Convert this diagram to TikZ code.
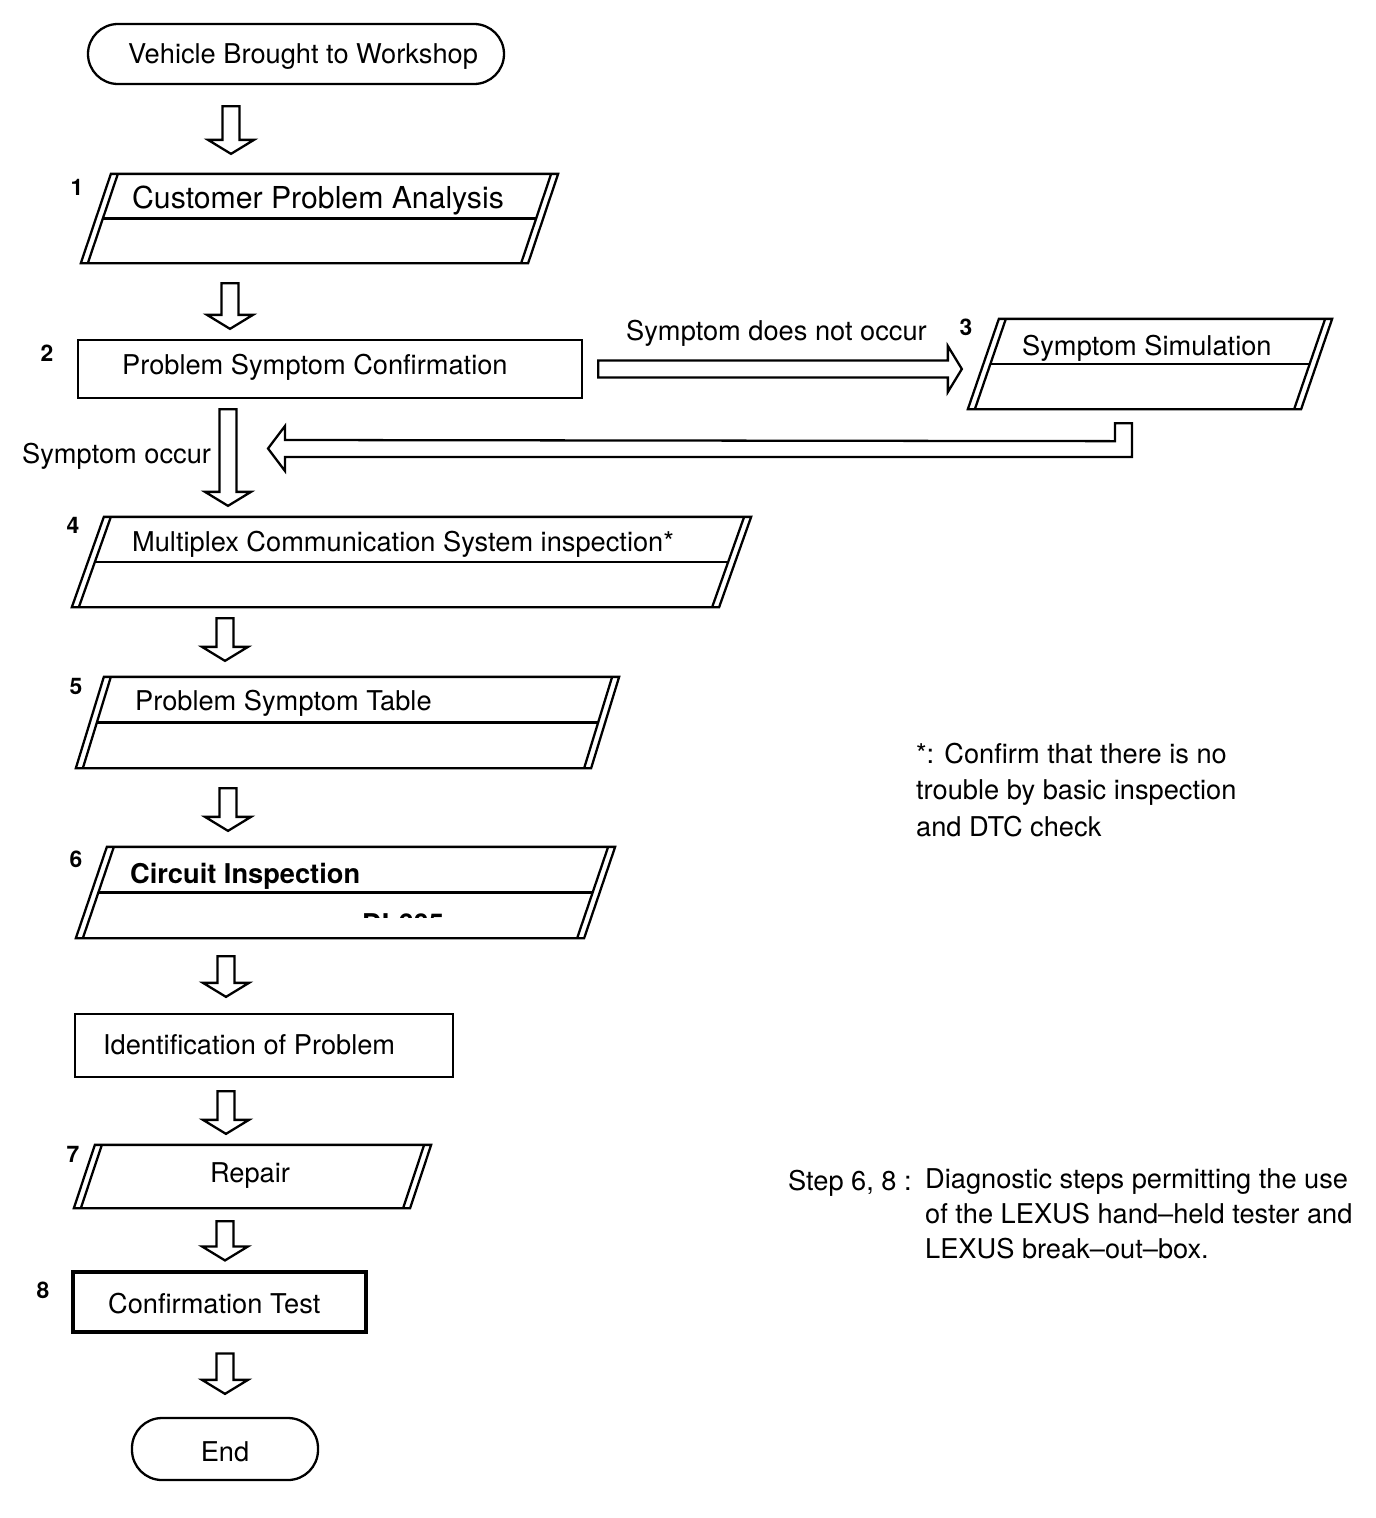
\documentclass[tikz,border=0pt]{standalone}
\usepackage{fontspec}
\setmainfont{TeX Gyre Heros}
\usetikzlibrary{calc,fit}
\def\shaftw{0.17cm}
\def\headw{0.46cm}
\def\headlen{0.28cm}
\tikzset{
  box/.style={draw, inner sep=0pt},
  pill/.style={box, rounded corners=0.6cm},
  area/.style={inner sep=0pt},
  txt/.style={inner sep=0pt, yshift=-1.7pt, font=\fontsize{15.5}{20.7}\selectfont},
  bigtxt/.style={inner sep=0pt, yshift=-1.7pt, font=\fontsize{17.2}{20}\selectfont},
  boldtxt/.style={inner sep=0pt, yshift=-1.7pt, font=\fontsize{15.5}{20}\selectfont\bfseries},
  stepno/.style={inner sep=0pt, font=\fontsize{13}{15}\selectfont\bfseries},
  hollow/.style={to path={
    ($(\tikztotarget)!\headlen!(\tikztostart)$) coordinate (hb)
    ($(\tikztostart)!\shaftw!90:(\tikztotarget)$) -- ($(hb)!\shaftw!90:(\tikztotarget)$)
    -- ($(hb)!\headw!90:(\tikztotarget)$) -- (\tikztotarget)
    -- ($(hb)!\headw!-90:(\tikztotarget)$) -- ($(hb)!\shaftw!-90:(\tikztotarget)$)
    -- ($(\tikztostart)!\shaftw!-90:(\tikztotarget)$) -- cycle}},
}
\begin{document}
\begin{tikzpicture}[x=0.02cm, y=-0.02cm, line width=1.3pt]
  \useasboundingbox (0,0) rectangle (1376,1518);
  % boxes
  \node[pill, fit={(88,24) (504,84)}] (start) {};
  \node[area, fit={(82,175) (557,262)}] (b1) {};
  \node[box, fit={(78,340) (582,398)}] (b2) {};
  \node[area, fit={(969,320) (1331,408)}] (b3) {};
  \node[area, fit={(73,518) (750,606)}] (b4) {};
  \node[area, fit={(77,678) (618,767)}] (b5) {};
  \node[area, fit={(77,848) (614,937)}] (b6) {};
  \node[box, fit={(75,1014) (453,1077)}] (ident) {};
  \node[area, fit={(75,1146) (430,1207)}] (b7) {};
  \node[box, line width=1.8pt, fit={(73,1272) (366,1332)}] (b8) {};
  \node[pill, fit={(132,1418) (318,1480)}] (finish) {};
  % slanted boxes, double sides
  \foreach \n/\s in {b1/30, b3/31, b4/32, b5/28, b6/31, b7/21} {
    \draw ($(\n.north west)+(\s,0)$) -- (\n.north east) -- ($(\n.south east)-(\s,0)$) -- (\n.south west) -- cycle;
    \draw ($(\n.north west)+(\s+7,0)$) -- ($(\n.south west)+(7,0)$);
    \draw ($(\n.north east)-(7,0)$) -- ($(\n.south east)-(\s+7,0)$);
  }
  \foreach \n/\s in {b1/30, b3/31, b4/32, b5/28, b6/31} {
    \draw ($(\n.west)+(\s/2+7,0)$) -- ($(\n.east)-(\s/2+7,0)$);
  }
  % texts
  \node[txt] (tstart) at (303,54) {Vehicle Brought to Workshop};
  \node[bigtxt, anchor=west] (t1) at (131,198) {Customer Problem Analysis};
  \node[txt, anchor=west] (t2) at (121,364) {Problem Symptom Confirmation};
  \node[txt, anchor=west] (t3) at (1021,345) {Symptom Simulation};
  \node[txt, anchor=west] (t4) at (131,541) {Multiplex Communication System inspection*};
  \node[txt, anchor=west] (t5) at (134,700) {Problem Symptom Table};
  \node[boldtxt, anchor=west] (t6) at (129,873) {Circuit Inspection};
  \begin{scope}
    \clip (340,906) rectangle (470,917);
    \node[boldtxt, anchor=west] (t6b) at (361,921) {DI-605};
  \end{scope}
  \node[txt, anchor=west] (tident) at (102,1042) {Identification of Problem};
  \node[txt] (t7) at (250,1173) {Repair};
  \node[txt, anchor=west] (t8) at (107,1301) {Confirmation Test};
  \node[txt] (tfinish) at (225,1449) {End};
  \node[txt, anchor=west] (notocc) at (625,330) {Symptom does not occur};
  \node[txt, anchor=west] (occ) at (21,453) {Symptom occur};
  % step numbers
  \node[stepno] (n1) at (77,187) {1};
  \node[stepno] (n2) at (47,353) {2};
  \node[stepno] (n3) at (966,327) {3};
  \node[stepno] (n4) at (73,525) {4};
  \node[stepno] (n5) at (76,686) {5};
  \node[stepno] (n6) at (76,859) {6};
  \node[stepno] (n7) at (73,1154) {7};
  \node[stepno] (n8) at (43,1290) {8};
  % notes
  \node[txt, anchor=north west, align=left] (note) at (915,739) {*: Confirm that there is no\\trouble by basic inspection\\and DTC check};
  \node[txt, anchor=west] (steplbl) at (787,1180) {Step 6, 8 :};
  \node[txt, anchor=north west, align=left, font=\fontsize{15.5}{19.8}\selectfont] (stepnote) at (924,1165) {Diagnostic steps permitting the use\\of the LEXUS hand--held tester and\\LEXUS break--out--box.};
  % arrows
  \foreach \a/\b/\x/\g/\h in {start/b1/231/21/20, b1/b2/230/20/10, b2/b4/228/10/11,
      b4/b5/225/11/16, b5/b6/228/20/16, b6/ident/226/18/16, ident/b7/226/13/11,
      b7/b8/225/13/10, b8/finish/225/20/23} {
    \draw[hollow] ($(\a.south -| \x,0)+(0,\g)$) to ($(\b.north -| \x,0)+(0,-\h)$);
  }
  \draw[hollow] ($(b2.east)+(15,0)$) to ($(b3.west)+(-6,5)$);
  \coordinate (rt) at ($(b3.south -| 1123.5,0)+(0,14)$);
  \coordinate (back) at (268,448.5);
  \draw ($(rt)+(-8.5,0)$) -- ++(17,0) |- ($(back)+(17,8.5)$) -- ++(0,14) -- (back)
    -- ++(17,-22.5) -- ++(0,14) -- ($(rt)+(-8.5,18)$) -- cycle;
\end{tikzpicture}
\end{document}
